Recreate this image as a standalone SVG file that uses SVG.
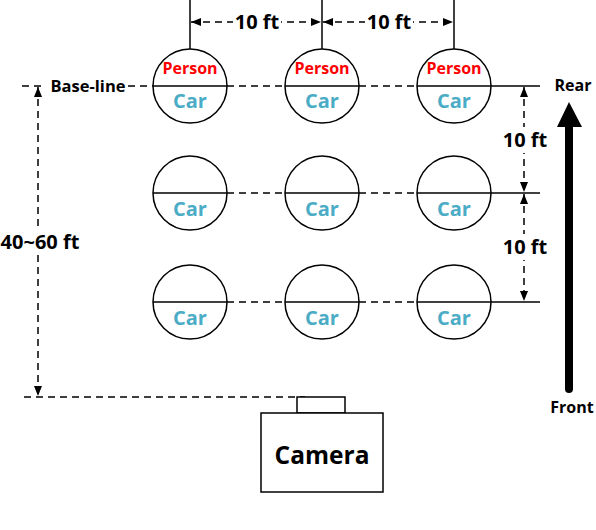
<svg xmlns="http://www.w3.org/2000/svg" width="596" height="530" viewBox="0 0 596 530">
<style>
  .c { fill: #fff; stroke: #000; stroke-width: 1.5; }
  .solid { stroke: #000; stroke-width: 1.5; fill: none; }
  .dash { stroke: #000; stroke-width: 1.5; fill: none; stroke-dasharray: 7 5; }
  .t { font-family: "Open Sans", "Noto Sans", "Liberation Sans", sans-serif; font-weight: bold; text-anchor: middle; }
  .person { fill: #FF0000; font-size: 16px; }
  .car { fill: #4BACC6; font-size: 20px; }
  .lbl { fill: #000; font-size: 20px; }
  .bg { fill: #fff; }
</style>
<defs>
  <marker id="ah" viewBox="0 0 10 8" refX="10" refY="4" markerWidth="10" markerHeight="8" markerUnits="userSpaceOnUse" orient="auto-start-reverse">
    <path d="M0,0 L10,4 L0,8 z" fill="#000"/>
  </marker>
</defs>

<g id="connectors">
  <line class="solid" x1="190" y1="0" x2="190" y2="49"/>
  <line class="solid" x1="322" y1="0" x2="322" y2="49"/>
  <line class="solid" x1="454" y1="0" x2="454" y2="49"/>
  <line class="dash" x1="191" y1="22" x2="321" y2="22" marker-start="url(#ah)" marker-end="url(#ah)"/>
  <line class="dash" x1="323" y1="22" x2="453" y2="22" marker-start="url(#ah)" marker-end="url(#ah)"/>
  <line class="dash" x1="22" y1="86" x2="46" y2="86"/>
  <line class="dash" x1="128" y1="86" x2="153" y2="86"/>
  <line class="dash" x1="227" y1="86" x2="285" y2="86"/>
  <line class="dash" x1="359" y1="86" x2="417" y2="86"/>
  <line class="solid" x1="491" y1="86" x2="540" y2="86"/>
  <line class="dash" x1="227" y1="193" x2="285" y2="193"/>
  <line class="dash" x1="359" y1="193" x2="417" y2="193"/>
  <line class="solid" x1="491" y1="193" x2="540" y2="193"/>
  <line class="dash" x1="227" y1="302" x2="285" y2="302"/>
  <line class="dash" x1="359" y1="302" x2="417" y2="302"/>
  <line class="solid" x1="491" y1="302" x2="540" y2="302"/>
  <line class="dash" x1="524" y1="87" x2="524" y2="192" marker-start="url(#ah)" marker-end="url(#ah)"/>
  <line class="dash" x1="524" y1="194" x2="524" y2="301" marker-start="url(#ah)" marker-end="url(#ah)"/>
  <line class="dash" x1="38" y1="87" x2="38" y2="396" marker-start="url(#ah)" marker-end="url(#ah)"/>
  <line class="dash" x1="24" y1="397" x2="305" y2="397"/>
  <line x1="569" y1="124" x2="569" y2="389" stroke="#000" stroke-width="8" stroke-linecap="round"/>
  <path d="M557,127 L569,102 L582,127 z" fill="#000"/>
</g>

<g id="labels">
  <rect class="bg" x="233" y="9" width="48" height="26"/>
  <text class="t lbl" x="257" y="29">10 ft</text>
  <rect class="bg" x="365" y="9" width="48" height="26"/>
  <text class="t lbl" x="389" y="29">10 ft</text>
  <text class="t lbl" x="88" y="92" style="font-size:16.5px">Base-line</text>
  <text class="t lbl" x="573" y="91" style="font-size:16px">Rear</text>
  <text class="t lbl" x="572" y="413" style="font-size:16px">Front</text>
  <rect class="bg" x="501" y="127" width="48" height="26"/>
  <text class="t lbl" x="525" y="147">10 ft</text>
  <rect class="bg" x="501" y="234" width="48" height="26"/>
  <text class="t lbl" x="525" y="254">10 ft</text>
  <rect class="bg" x="0" y="229" width="84" height="26"/>
  <text class="t lbl" x="40" y="249">40~60 ft</text>
</g>

<g id="r1c1"><circle class="c" cx="190" cy="86" r="37"/><line class="solid" x1="153" y1="86" x2="227" y2="86"/><text class="t person" x="190" y="74">Person</text><text class="t car" x="190" y="108">Car</text></g>
<g id="r1c2"><circle class="c" cx="322" cy="86" r="37"/><line class="solid" x1="285" y1="86" x2="359" y2="86"/><text class="t person" x="322" y="74">Person</text><text class="t car" x="322" y="108">Car</text></g>
<g id="r1c3"><circle class="c" cx="454" cy="86" r="37"/><line class="solid" x1="417" y1="86" x2="491" y2="86"/><text class="t person" x="454" y="74">Person</text><text class="t car" x="454" y="108">Car</text></g>

<g id="r2c1"><circle class="c" cx="190" cy="193" r="37"/><line class="solid" x1="153" y1="193" x2="227" y2="193"/><text class="t car" x="190" y="216">Car</text></g>
<g id="r2c2"><circle class="c" cx="322" cy="193" r="37"/><line class="solid" x1="285" y1="193" x2="359" y2="193"/><text class="t car" x="322" y="216">Car</text></g>
<g id="r2c3"><circle class="c" cx="454" cy="193" r="37"/><line class="solid" x1="417" y1="193" x2="491" y2="193"/><text class="t car" x="454" y="216">Car</text></g>

<g id="r3c1"><circle class="c" cx="190" cy="302" r="37"/><line class="solid" x1="153" y1="302" x2="227" y2="302"/><text class="t car" x="190" y="325">Car</text></g>
<g id="r3c2"><circle class="c" cx="322" cy="302" r="37"/><line class="solid" x1="285" y1="302" x2="359" y2="302"/><text class="t car" x="322" y="325">Car</text></g>
<g id="r3c3"><circle class="c" cx="454" cy="302" r="37"/><line class="solid" x1="417" y1="302" x2="491" y2="302"/><text class="t car" x="454" y="325">Car</text></g>

<g id="camera">
  <rect class="c" x="297" y="397" width="48" height="16"/>
  <rect class="c" x="261" y="413" width="122" height="79"/>
  <text class="t" x="322" y="464" style="font-size:24.5px">Camera</text>
</g>
</svg>
